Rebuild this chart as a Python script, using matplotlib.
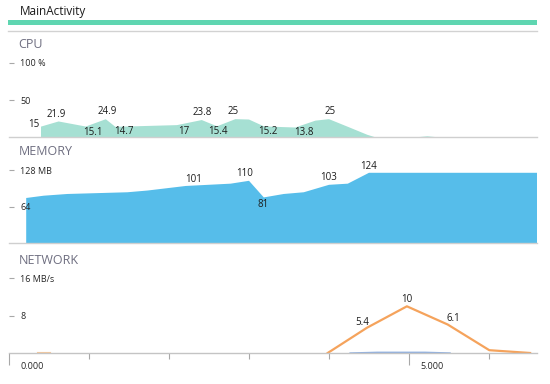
import matplotlib
matplotlib.use('Agg')
from matplotlib import pyplot as plt
from matplotlib.patches import Rectangle
from matplotlib.lines import Line2D

plt.rcParams['font.family'] = ['Open Sans', 'DejaVu Sans']

# time axis in seconds
cpu_time = [0.39, 0.61, 0.95, 1.20, 1.32, 2.09, 2.40, 2.59, 2.82, 2.99, 3.18,
            3.57, 3.82, 3.99, 4.22, 4.47, 4.59, 5.01, 5.22, 5.42, 6.59]
cpu_vals = [15, 21.9, 15.1, 24.9, 14.7, 17, 23.8, 15.4, 25, 24.5, 15.2,
            13.8, 23, 25, 15, 4, 0, 0, 2, 0, 0]
cpu_labels = {0: '15', 1: '21.9', 2: '15.1', 3: '24.9', 4: '14.7', 5: '17',
              6: '23.8', 7: '15.4', 8: '25', 10: '15.2', 11: '13.8', 13: '25'}

mem_time = [0.205, 0.425, 0.72, 1.47, 1.72, 2.20, 2.76, 2.99, 3.175, 3.425,
            3.675, 3.99, 4.225, 4.49, 6.59]
mem_vals = [80, 84, 87, 90, 93, 101, 105, 110, 81, 87, 90, 103, 105, 124, 124]
mem_labels = {5: '101', 7: '110', 8: '81', 11: '103', 13: '124'}

# sent traffic: small blip at start, then the burst
net_blip_time = [0.34, 0.51]
net_blip_vals = [0.25, 0.25]
net_time = [3.98, 4.47, 4.97, 5.48, 6.0, 6.51]
net_vals = [0, 5.4, 10, 6.1, 0.6, 0]
net_labels = {1: '5.4', 2: '10', 3: '6.1'}

# received traffic
net2_time = [4.26, 4.6, 5.2, 5.51]
net2_vals = [0, 0.15, 0.15, 0]

x_major = [0, 5]
x_major_labels = ['0.000', '5.000']
x_minor = [1, 2, 3, 4, 6]

# label offsets in pixels (dx, dy), y up
cpu_off = {0: (-7, 2), 1: (-2, 6), 2: (8, -6), 3: (2, 7), 4: (9, -5), 5: (7, -7),
           6: (1, 7), 7: (1, -6), 8: (-2, 7), 10: (4, -6), 11: (9, -5), 13: (2, 7)}
mem_off = {5: (8, 6), 7: (-4, 7), 8: (0, -8), 11: (0, 7), 13: (0, 6)}
net_off = {1: (-5, 5), 2: (0, 7), 3: (6, 6)}

W, H = 550, 384
fig = plt.figure(figsize=(5.5, 3.84), dpi=100)

x0, x1 = 9.3, 536.7
xmax = (x1 - x0) / 80.0


def make_axes(top_px, bottom_px):
    return fig.add_axes([x0 / W, 1 - bottom_px / H, (x1 - x0) / W, (bottom_px - top_px) / H])


def style_axes(ax, ticks, labels, ymax):
    ax.set_xlim(0, xmax)
    ax.set_ylim(0, ymax)
    ax.patch.set_visible(False)
    for s in ['top', 'right', 'left']:
        ax.spines[s].set_visible(False)
    ax.spines['bottom'].set_color('#cfcfcf')
    ax.spines['bottom'].set_linewidth(1.0)
    ax.set_yticks(ticks, labels)
    ax.tick_params(axis='y', direction='in', length=3.8, width=0.8, color='#a8a8a8',
                   pad=-7.8, labelsize=6.5, labelcolor='#262626')
    for lbl in ax.get_yticklabels():
        lbl.set_horizontalalignment('left')
    ax.set_xticks([])


def add_labels(ax, t, v, labels, offs):
    for i, txt in labels.items():
        dx, dy = offs[i]
        ax.annotate(txt, (t[i], v[i]), xytext=(dx * 0.72, dy * 0.72),
                    textcoords='offset points', ha='center', va='center',
                    fontsize=7, color='#1c1c1c', annotation_clip=False)


# header
fig.text(20 / W, 1 - 12 / H, 'MainActivity', fontsize=8.5, color='#1a1a1a', va='center')
fig.add_artist(Rectangle((8.3 / W, 1 - 25 / H), (x1 - 8.3) / W, 5 / H,
                         transform=fig.transFigure, color='#5fd6b1', lw=0))
fig.add_artist(Line2D([8.3 / W, x1 / W], [1 - 30.5 / H, 1 - 30.5 / H],
                      transform=fig.transFigure, color='#d2d2d2', lw=1))

for name, ypx in [('CPU', 45), ('MEMORY', 152), ('NETWORK', 260)]:
    fig.text(18.5 / W, 1 - ypx / H, name, fontsize=9, color='#6e6e80', va='center')

# CPU
ax_cpu = make_axes(62.7, 137.3)
style_axes(ax_cpu, [50, 100], ['50', '100 %'], 100)
ax_cpu.fill_between(cpu_time, cpu_vals, 0, color='#a6e0d3', lw=0)
add_labels(ax_cpu, cpu_time, cpu_vals, cpu_labels, cpu_off)

# memory
ax_mem = make_axes(170, 243.3)
style_axes(ax_mem, [64, 128], ['64', '128 MB'], 128)
ax_mem.fill_between(mem_time, mem_vals, 0, color='#56bdea', lw=0)
add_labels(ax_mem, mem_time, mem_vals, mem_labels, mem_off)

# network
ax_net = make_axes(278.3, 353)
style_axes(ax_net, [8, 16], ['8', '16 MB/s'], 16)
ax_net.spines['bottom'].set_color('#c4c4c4')
ax_net.spines['bottom'].set_zorder(2.5)
ax_net.plot(net2_time, net2_vals, color='#8fb0e0', lw=1, zorder=2)
ax_net.plot(net_blip_time, net_blip_vals, color='#f8c89a', lw=0.8, zorder=2)
ax_net.plot(net_time, net_vals, color='#f5a35c', lw=1.6, zorder=2.2)
add_labels(ax_net, net_time, net_vals, net_labels, net_off)

ax_net.set_xticks(x_major)
ax_net.set_xticks(x_minor, minor=True)
ax_net.tick_params(axis='x', which='major', length=8.5, width=0.8, color='#a8a8a8',
                   labelbottom=False)
ax_net.tick_params(axis='x', which='minor', length=4.6, width=0.8, color='#a8a8a8')
for t, txt in zip(x_major, x_major_labels):
    ax_net.annotate(txt, (t, 0), xycoords=ax_net.get_xaxis_transform(),
                    xytext=(8, -9.5), textcoords='offset points', ha='left', va='center',
                    fontsize=6.5, color='#262626', annotation_clip=False)

fig.savefig('out.png', dpi=100, facecolor='white')
